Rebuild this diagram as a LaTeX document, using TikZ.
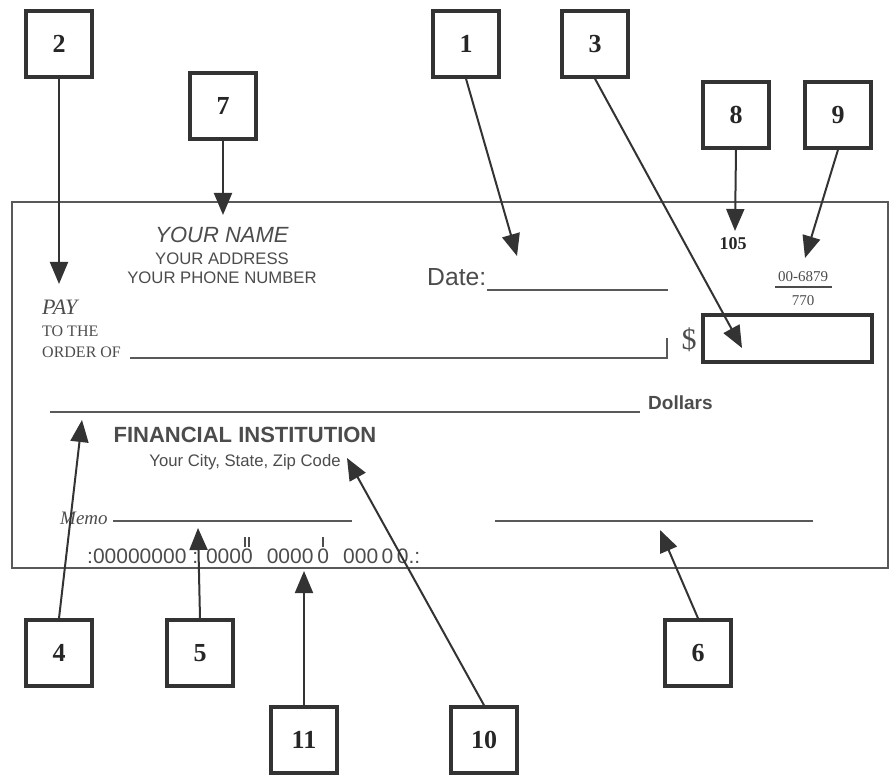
\documentclass[tikz,border=0pt]{standalone}
\usepackage{fontspec}
\setmainfont{Liberation Serif}
\setsansfont{Liberation Sans}
\usetikzlibrary{arrows.meta}

\newcommand\fs[1]{\fontsize{#1}{#1}\selectfont}
\newcommand\tickover[2]{\ooalign{#1\cr\hidewidth#2\hidewidth\cr}}
\newcommand\onetick{\rule[16pt]{2pt}{10pt}}
\newcommand\twotick{\rule[16pt]{2pt}{10pt}\hspace{2pt}\rule[16pt]{2pt}{10pt}}

\tikzset{
  callout/.style={draw=black!80, line width=3.5pt, minimum width=66pt,
    minimum height=66pt, inner sep=0pt, font=\fs{26}\bfseries, text=black!85},
  pointer/.style={draw=black!80, line width=2pt,
    -{Triangle[width=18pt,length=22pt]}},
  blank/.style={draw=black!65, line width=2.5pt},
  chk/.style={inner sep=0pt, text=black!70},
}

\begin{document}
\begin{tikzpicture}[x=1pt,y=-1pt]
    \useasboundingbox (0,0) rectangle (895,775);
    % the check
    \draw[draw=black!65, line width=2.5pt] (12,202) rectangle (888,568);
    \node[chk, anchor=base, font=\sffamily\itshape\fs{22}] (yname) at (222,243) {YOUR NAME};
    \node[chk, anchor=base, font=\sffamily\fs{16.7}] (yaddr) at (222,265) {YOUR ADDRESS};
    \node[chk, anchor=base, font=\sffamily\fs{16.7}] (yphone) at (222,284) {YOUR PHONE NUMBER};
    \node[chk, anchor=base west, font=\itshape\fs{22}] (pay) at (42,315) {PAY};
    \node[chk, anchor=base west, font=\fs{16}] (tothe) at (42,337) {TO THE};
    \node[chk, anchor=base west, font=\fs{16}] (orderof) at (42,358) {ORDER OF};
    \draw[blank] (130,358) -- (667,358) -- (667,338);
    \node[chk, anchor=base west, font=\sffamily\fs{24.7}] (date) at (427,286) {Date:};
    \draw[blank] (487,290) -- (668,290);
    \node[chk, anchor=base, font=\bfseries\fs{18}, text=black!85] (num) at (733,250) {105};
    \node[chk, anchor=base, font=\fs{15}] (routing) at (803,282) {00-6879};
    \draw[draw=black!70, line width=1.5pt] (775,287) -- (832,287);
    \node[chk, anchor=base, font=\fs{15}] (fraction) at (803,306) {770};
    \node[chk, anchor=base, font=\fs{30}] (dollar) at (689,350) {\$};
    \draw[draw=black!80, line width=4pt] (703,315) rectangle (872,362);
    \draw[blank] (50,412) -- (640,412);
    \node[chk, anchor=base west, font=\sffamily\bfseries\fs{19}] (dollars) at (648,410) {Dollars};
    \node[chk, anchor=base, font=\sffamily\bfseries\fs{22}] (bank) at (245,443) {FINANCIAL INSTITUTION};
    \node[chk, anchor=base, font=\sffamily\fs{16.7}] (city) at (245,467) {Your City, State, Zip Code};
    \node[chk, anchor=base west, font=\itshape\fs{19}] (memo) at (60,525) {Memo};
    \draw[blank] (113,521) -- (352,521);
    \draw[blank] (495,521) -- (813,521);
    \node[chk, anchor=base west, font=\sffamily\fs{21}] (micr) at (87,563)
      {:00000000\hspace{6pt}: 000\tickover{0}{\twotick}\hspace{14pt}0000\hspace{4pt}\tickover{0}{\onetick}\hspace{14pt}000\,0\,0.:};
    % number boxes
    \node[callout] (b2) at (59,44) {2};
    \node[callout] (b7) at (223,106) {7};
    \node[callout] (b1) at (466,44) {1};
    \node[callout] (b3) at (595,44) {3};
    \node[callout] (b8) at (736,115) {8};
    \node[callout] (b9) at (838,115) {9};
    \node[callout] (b4) at (59,653) {4};
    \node[callout] (b5) at (200,653) {5};
    \node[callout] (b11) at (304,740) {11};
    \node[callout] (b10) at (484,740) {10};
    \node[callout] (b6) at (698,653) {6};
    % arrow tips
    \coordinate (t2) at (59,284);
    \coordinate (t7) at (223,215);
    \coordinate (t1) at (517,256);
    \coordinate (t3) at (742,348);
    \coordinate (t8) at (735,231);
    \coordinate (t9) at (805,258);
    \coordinate (t4) at (82,420);
    \coordinate (t5) at (198,528);
    \coordinate (t11) at (304,571);
    \coordinate (t10) at (347,458);
    \coordinate (t6) at (660,530);
    \draw[pointer] (b2.south) -- (t2);
    \draw[pointer] (b7.south) -- (t7);
    \draw[pointer] (b1.south) -- (t1);
    \draw[pointer] (b3.south) -- (t3);
    \draw[pointer] (b8.south) -- (t8);
    \draw[pointer] (b9.south) -- (t9);
    \draw[pointer] (b4.north) -- (t4);
    \draw[pointer] (b5.north) -- (t5);
    \draw[pointer] (b11.north) -- (t11);
    \draw[pointer] (b10.north) -- (t10);
    \draw[pointer] (b6.north) -- (t6);
\end{tikzpicture}
\end{document}
